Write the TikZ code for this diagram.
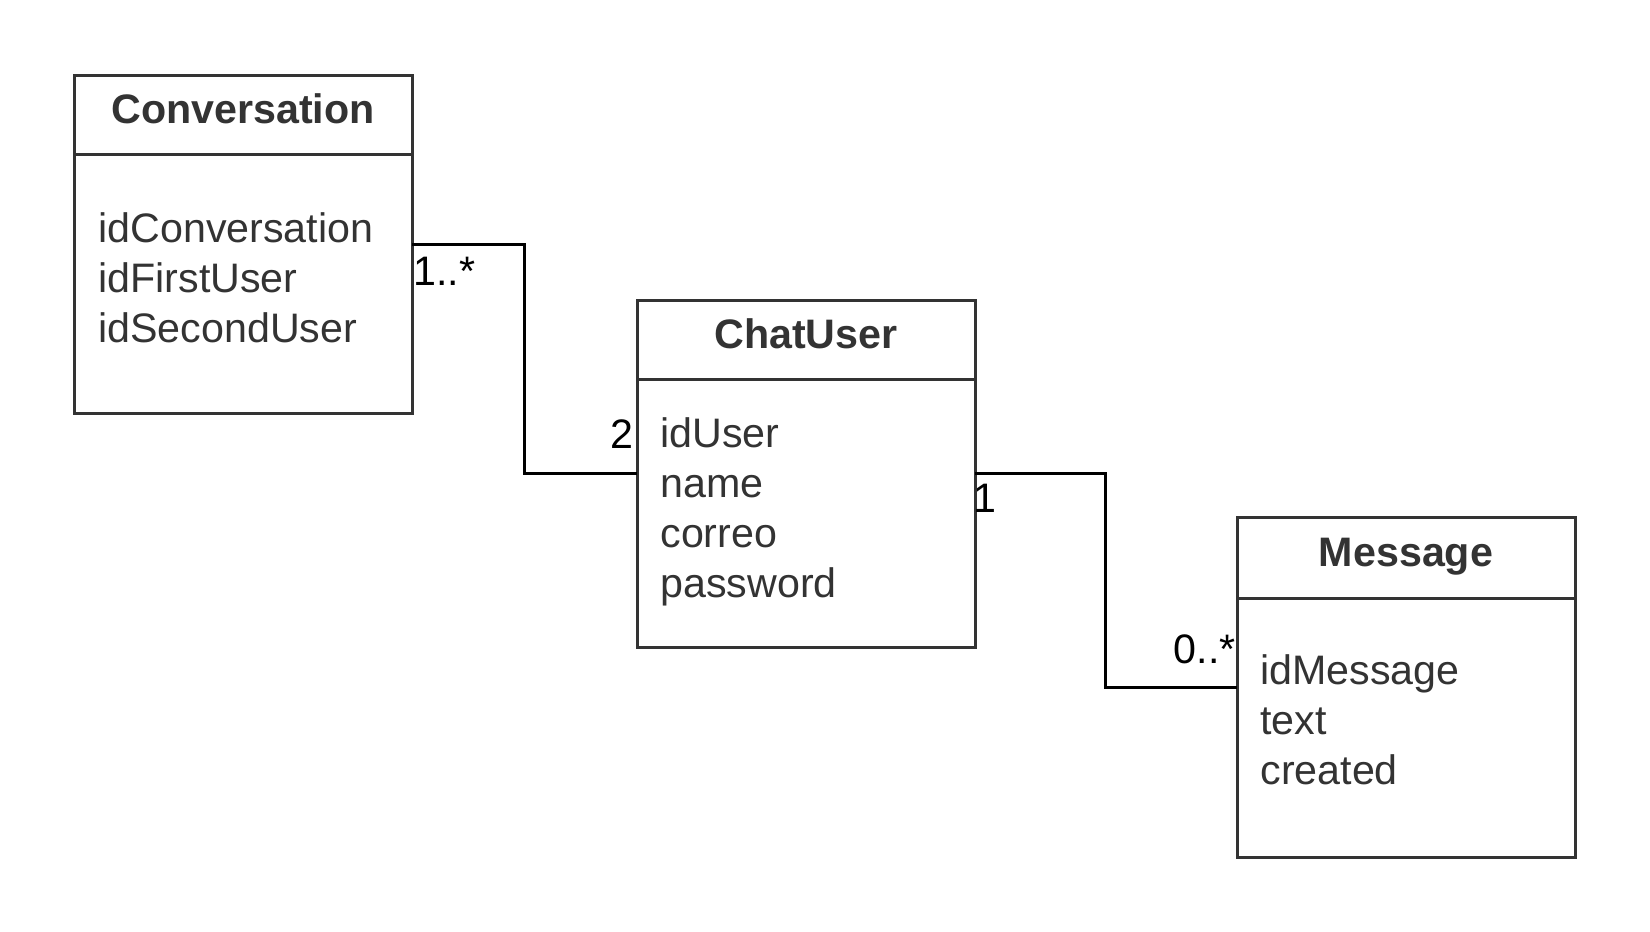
\documentclass[tikz,border=0pt]{standalone}
\usepackage{fontspec}
\setmainfont{Liberation Sans}
\usetikzlibrary{positioning,calc}
\definecolor{umlgray}{RGB}{51,51,51}

\begin{document}
\begin{tikzpicture}[x=0.5pt, y=-0.5pt,
        classhead/.style={rectangle, draw=umlgray, line width=1.5pt, outer sep=0pt, inner sep=0pt, text=umlgray, font=\fontsize{20.6}{25}\selectfont\bfseries, text height=15pt, text depth=6.5pt, minimum width=169pt, minimum height=39.5pt, anchor=north west},
        classbody/.style={rectangle, draw=umlgray, line width=1.5pt, outer sep=0pt, inner sep=0pt, minimum width=169pt},
        attrlist/.style={anchor=north west, align=left, inner sep=0pt, text=umlgray, font=\fontsize{20.6}{25}\selectfont},
        link/.style={line width=1.5pt, black},
        mult/.style={inner sep=0pt, font=\fontsize{20.6}{25}\selectfont}
    ]
    \useasboundingbox (0,0) rectangle (1650,932);

    % classes
    \node[classhead] (convhead) at (74,75) {Conversation};
    \node[classbody, minimum height=129.5pt, below=0pt of convhead] (convbody) {};
    \node[attrlist] (convattr) at ([shift={(24,58.5)}]convbody.north west) {idConversation\\idFirstUser\\idSecondUser};

    \node[classhead] (userhead) at (637,300) {ChatUser};
    \node[classbody, minimum height=134pt, below=0pt of userhead] (userbody) {};
    \node[attrlist] (userattr) at ([shift={(23,38.5)}]userbody.north west) {idUser\\name\\correo\\password};

    \node[classhead, minimum height=40.5pt] (msghead) at (1237,517) {Message};
    \node[classbody, minimum height=129.5pt, below=0pt of msghead] (msgbody) {};
    \node[attrlist] (msgattr) at ([shift={(23,56.5)}]msgbody.north west) {idMessage\\text\\created};

    % associations
    \coordinate (bendA) at (524,360);
    \coordinate (bendB) at (1105,580);
    \draw[link] ([yshift=19.75pt]convbody.east) -| (bendA) |- ([yshift=20pt]userbody.west);
    \draw[link] ([yshift=20pt]userbody.east) -| (bendB) |- ([yshift=20.25pt]msgbody.west);

    \node[mult, anchor=base west] (multconv) at (413,285) {1..*};
    \node[mult, anchor=base east] (multuser) at (634,448) {2};
    \node[mult, anchor=base west] (multone) at (973,512) {1};
    \node[mult, anchor=base east] (multmsg) at (1236,663) {0..*};
\end{tikzpicture}
\end{document}
